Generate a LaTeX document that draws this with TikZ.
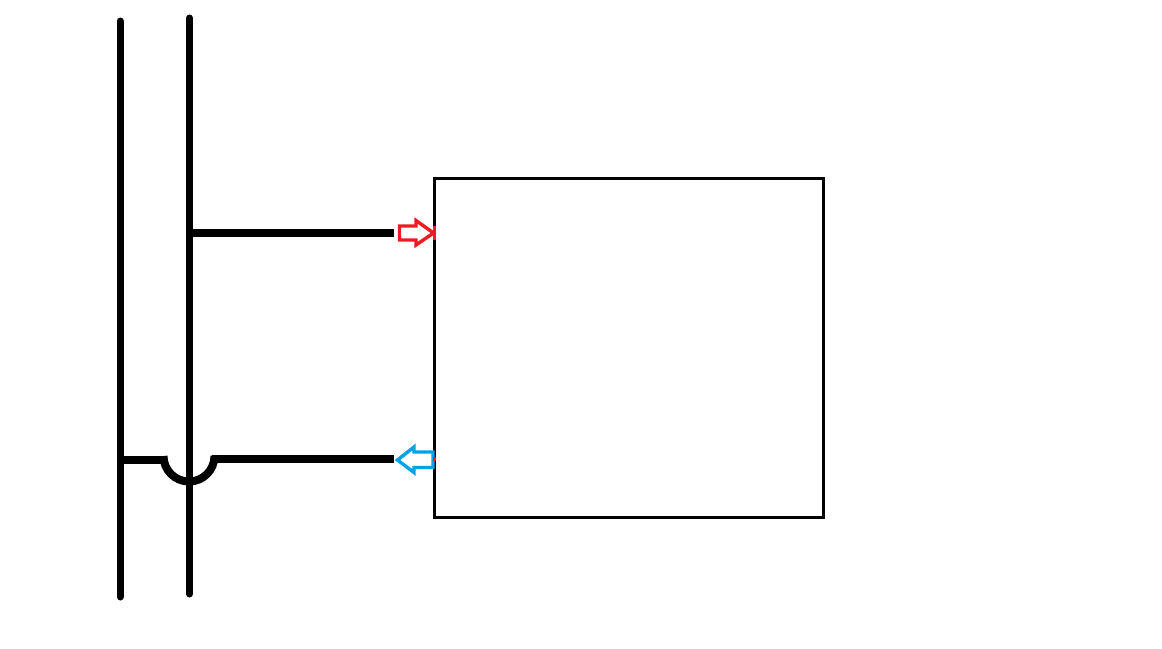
\documentclass[tikz,border=0pt]{standalone}
\definecolor{paintred}{RGB}{237,28,36}
\definecolor{paintblue}{RGB}{0,162,232}
\begin{document}
\begin{tikzpicture}[x=1pt,y=-1pt,
  wire/.style={line width=7pt,line cap=round,draw=black},
  flat/.style={line width=8pt,draw=black},
  boxed/.style={draw=black,line width=3pt,fill=white,minimum width=389pt,minimum height=339pt,inner sep=0pt,outer sep=0pt},
  redarrow/.style={draw=paintred,line width=3.4pt,miter limit=10},
  bluearrow/.style={draw=paintblue,line width=3.4pt}]
\useasboundingbox (0,0) rectangle (1162,648);
\node[boxed] (box) at (628.5,347.5) {};
\coordinate (a1) at (120,21);
\coordinate (a2) at (120,597);
\coordinate (b1) at (189.5,18);
\coordinate (b2) at (189.5,594);
\coordinate (t1) at (187,233);
\coordinate (t2) at (394,233);
\coordinate (l1) at (120,459.5);
\coordinate (l2) at (163,459.5);
\coordinate (r1) at (212,459);
\coordinate (r2) at (394,459);
\coordinate (arcL) at (163.5,456);
\draw[wire] (a1) -- (a2);
\draw[wire] (b1) -- (b2);
\draw[flat] (t1) -- (t2);
\draw[flat] (l1) -- (l2);
\draw[flat] (r1) -- (r2);
\draw[line width=8pt] (arcL) arc[start angle=180,end angle=0,radius=25.5];
\draw[redarrow] (399.5,226) -- (416,226) -- (416,220.5) -- (433.5,233) -- (416,245) -- (416,240) -- (399.5,240) -- cycle;
\draw[paintred,line width=3pt] (434.5,226) -- (434.5,240);
\draw[bluearrow] (433,452) -- (414,452) -- (414,447) -- (397.5,460) -- (414,472.5) -- (414,467.5) -- (433,467.5) -- cycle;
\draw[paintred,line width=3pt] (434.5,457) -- (434.5,461);
\end{tikzpicture}
\end{document}
